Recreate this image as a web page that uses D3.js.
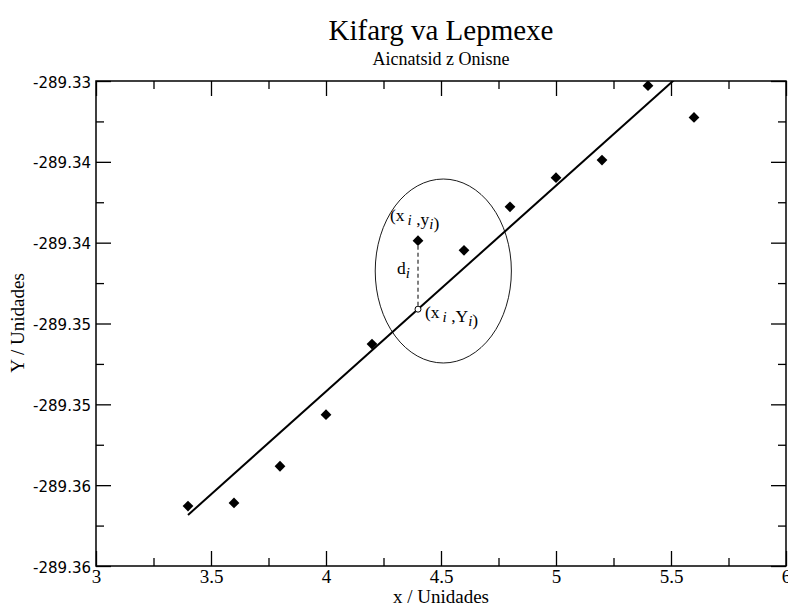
<!DOCTYPE html>
<html>
<head>
<meta charset="utf-8">
<style>
  body { margin: 0; background: #fff; }
  svg text { fill: #000; }
  .serif { font-family: "Liberation Serif", "Times New Roman", serif; }
  .axis line { stroke: #000; stroke-width: 1.3; }
  .axis .domain { stroke: none; }
</style>
<script src="https://d3js.org/d3.v7.min.js"></script>
</head>
<body>
<svg id="chart" width="788" height="607"></svg>
<script>
// data
const xVals = [3.4, 3.6, 3.8, 4.0, 4.2, 4.4, 4.6, 4.8, 5.0, 5.2, 5.4, 5.6];
const yVals = [-289.35629, -289.35610, -289.35383, -289.35064, -289.34627, -289.33988,
               -289.34047, -289.33778, -289.33598, -289.33489, -289.33029, -289.33225];

// fitted line end points
const fitX = [3.4, 5.6];
const fitY = [-289.356845, -289.328837];

// the highlighted point i and its projection on the line
const pointX = 4.4;
const pointY = -289.33988;
const projY = -289.344114;

// ellipse round the point (data units)
const ellCx = 4.51, ellCy = -289.341753, ellRx = 0.296, ellRy = 0.00569;

const xTicks = [3, 3.5, 4, 4.5, 5, 5.5, 6];
const xMinor = [3.25, 3.75, 4.25, 4.75, 5.25, 5.75];
const yTicks = [-289.330, -289.335, -289.340, -289.345, -289.350, -289.355, -289.360];
const yTickLabels = ["-289.33", "-289.34", "-289.34", "-289.35", "-289.35", "-289.36", "-289.36"];
const yMinor = [-289.3325, -289.3375, -289.3425, -289.3475, -289.3525, -289.3575];

const svg = d3.select("#chart");
const margin = {top: 81, right: 2, bottom: 41, left: 96};
const W = +svg.attr("width"), H = +svg.attr("height");
const plotW = W - margin.left - margin.right;
const plotH = H - margin.top - margin.bottom;

const x = d3.scaleLinear().domain([3, 6]).range([margin.left, margin.left + plotW]);
const y = d3.scaleLinear().domain([-289.36, -289.33]).range([margin.top + plotH, margin.top]);

svg.append("defs").append("clipPath").attr("id", "clip")
  .append("rect").attr("x", margin.left).attr("y", margin.top)
  .attr("width", plotW).attr("height", plotH);

// titles
svg.append("text").attr("class", "serif")
  .attr("x", margin.left + plotW / 2).attr("y", 40)
  .attr("text-anchor", "middle").style("font-size", "29px")
  .text("Kifarg va Lepmexe");
svg.append("text").attr("class", "serif")
  .attr("x", margin.left + plotW / 2).attr("y", 65)
  .attr("text-anchor", "middle").style("font-size", "18px")
  .text("Aicnatsid z Onisne");

// axes, ticks pointing inwards on all four sides
const major = 15, minor = 8;
const bottomAx = svg.append("g").attr("class", "axis")
  .attr("transform", "translate(0," + (margin.top + plotH) + ")")
  .call(d3.axisBottom(x).tickValues(xTicks).tickSizeInner(-major).tickSizeOuter(0).tickPadding(3).tickFormat(d3.format("~g")));
bottomAx.selectAll("text")
  .style("font-family", "'Liberation Serif', serif").style("font-size", "19px");
svg.append("g").attr("class", "axis")
  .attr("transform", "translate(0," + (margin.top + plotH) + ")")
  .call(d3.axisBottom(x).tickValues(xMinor).tickSizeInner(-minor).tickSizeOuter(0).tickFormat(""));
svg.append("g").attr("class", "axis")
  .attr("transform", "translate(0," + margin.top + ")")
  .call(d3.axisTop(x).tickValues(xTicks).tickSizeInner(-major).tickSizeOuter(0).tickFormat(""));
svg.append("g").attr("class", "axis")
  .attr("transform", "translate(0," + margin.top + ")")
  .call(d3.axisTop(x).tickValues(xMinor).tickSizeInner(-minor).tickSizeOuter(0).tickFormat(""));

const leftAx = svg.append("g").attr("class", "axis")
  .attr("transform", "translate(" + margin.left + ",0)")
  .call(d3.axisLeft(y).tickValues(yTicks).tickSizeInner(-major).tickSizeOuter(0).tickPadding(5)
    .tickFormat((d, i) => yTickLabels[i]));
leftAx.selectAll("text")
  .attr("dy", "0.4em")
  .style("font-family", "'DejaVu Sans', sans-serif").style("font-size", "15px");
svg.append("g").attr("class", "axis")
  .attr("transform", "translate(" + margin.left + ",0)")
  .call(d3.axisLeft(y).tickValues(yMinor).tickSizeInner(-minor).tickSizeOuter(0).tickFormat(""));
svg.append("g").attr("class", "axis")
  .attr("transform", "translate(" + (margin.left + plotW) + ",0)")
  .call(d3.axisRight(y).tickValues(yTicks).tickSizeInner(-major).tickSizeOuter(0).tickFormat(""));
svg.append("g").attr("class", "axis")
  .attr("transform", "translate(" + (margin.left + plotW) + ",0)")
  .call(d3.axisRight(y).tickValues(yMinor).tickSizeInner(-minor).tickSizeOuter(0).tickFormat(""));

svg.append("rect")
  .attr("x", margin.left).attr("y", margin.top)
  .attr("width", plotW).attr("height", plotH)
  .attr("fill", "none").attr("stroke", "#000").attr("stroke-width", 1.5);

// axis titles
svg.append("text").attr("class", "serif")
  .attr("x", margin.left + plotW / 2).attr("y", 603)
  .attr("text-anchor", "middle").style("font-size", "19px")
  .text("x / Unidades");
svg.append("text").attr("class", "serif")
  .attr("transform", "translate(24," + 323 + ") rotate(-90)")
  .attr("text-anchor", "middle").style("font-size", "19px")
  .text("Y / Unidades");

const plot = svg.append("g").attr("clip-path", "url(#clip)");

// ellipse
plot.append("ellipse")
  .attr("cx", x(ellCx)).attr("cy", y(ellCy))
  .attr("rx", x(ellCx + ellRx) - x(ellCx)).attr("ry", y(ellCy) - y(ellCy + ellRy))
  .attr("fill", "none").attr("stroke", "#000").attr("stroke-width", 0.9);

// regression line
const fit = fitX.map((d, i) => [d, fitY[i]]);
plot.append("path")
  .datum(fit)
  .attr("d", d3.line().x(d => x(d[0])).y(d => y(d[1])))
  .attr("fill", "none").attr("stroke", "#000").attr("stroke-width", 2);

// residual
plot.append("line")
  .attr("x1", x(pointX)).attr("x2", x(pointX))
  .attr("y1", y(pointY) + 5).attr("y2", y(projY))
  .attr("stroke", "#000").attr("stroke-width", 1).attr("stroke-dasharray", "4,3");
plot.append("circle")
  .attr("cx", x(pointX)).attr("cy", y(projY)).attr("r", 3)
  .attr("fill", "#fff").attr("stroke", "#000").attr("stroke-width", 1);

// points
const diamond = d3.symbol().type(d3.symbolSquare).size(58);
plot.selectAll("path.pt")
  .data(xVals.map((d, i) => [d, yVals[i]]))
  .join("path").attr("class", "pt")
  .attr("d", diamond)
  .attr("transform", d => "translate(" + x(d[0]) + "," + y(d[1]) + ") rotate(45)")
  .attr("fill", "#000");

// labels with subscripts
function subLabel(px, py, parts) {
  const t = svg.append("text").attr("class", "serif")
    .attr("x", px).attr("y", py).style("font-size", "17.5px");
  parts.forEach(p => {
    if (p.sub) {
      t.append("tspan").attr("dy", 4).style("font-style", "italic").style("font-size", "15px").text(p.sub);
      t.append("tspan").attr("dy", -4).text("");
    } else {
      t.append("tspan").text(p.t);
    }
  });
}
subLabel(x(pointX) - 28, y(pointY) - 20, [{t: "(x"}, {sub: "\u2009i"}, {t: " ,y"}, {sub: "i"}, {t: ")"}]);
subLabel(x(pointX) - 21, y(pointY) + 33, [{t: "d"}, {sub: "i"}]);
subLabel(x(pointX) + 7, y(projY) + 9, [{t: "(x"}, {sub: "\u2009i"}, {t: " ,Y"}, {sub: "i"}, {t: ")"}]);
</script>
</body>
</html>
